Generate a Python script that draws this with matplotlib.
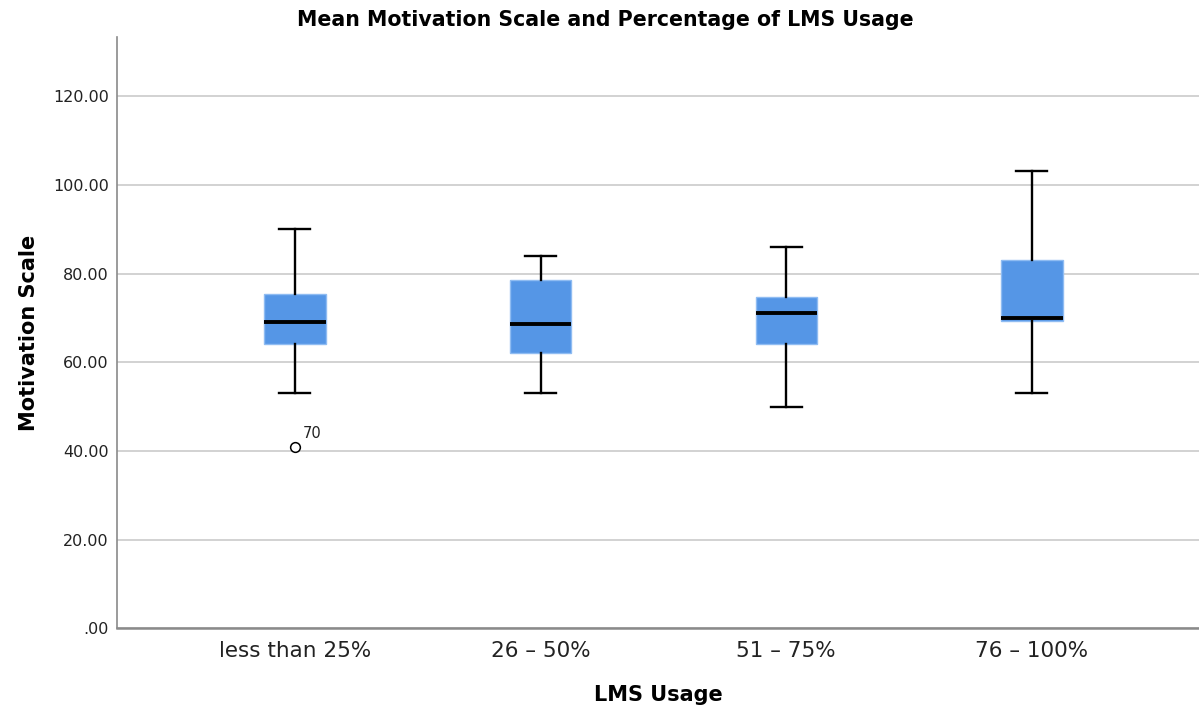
import numpy as np
import matplotlib.pyplot as plt

# Datos
groups = ['less than 25%', '26 \u2013 50%', '51 \u2013 75%', '76 \u2013 100%']
wlo = [53.0, 53.0, 50.0, 53.0]
q1 = [64.1, 62.2, 64.1, 69.3]
med = [69.0, 68.6, 71.1, 70.0]
q3 = [75.4, 78.5, 74.8, 83.0]
whi = [90.0, 84.0, 86.0, 103.0]
fliers = [[41.0], [], [], []]
flier_ids = [['70'], [], [], []]

yticks = [0, 20, 40, 60, 80, 100, 120]
ytick_labels = ['.00', '20.00', '40.00', '60.00', '80.00', '100.00', '120.00']

box_color = '#5596e6'

stats = []
for i in range(len(groups)):
    stats.append(dict(whislo=wlo[i], q1=q1[i], med=med[i], q3=q3[i],
                      whishi=whi[i], fliers=fliers[i], label=groups[i]))

fig = plt.figure(figsize=(11.99, 7.08), dpi=100)
ax = fig.add_axes([0.0976, 0.1123, 0.9024, 0.8354])

pos = np.arange(len(groups))
ax.bxp(stats, positions=pos, widths=0.25, patch_artist=True,
       boxprops=dict(facecolor=box_color, edgecolor='#8fbcf2', linewidth=1),
       medianprops=dict(color='black', linewidth=2.8, solid_capstyle='butt'),
       whiskerprops=dict(color='black', linewidth=1.7),
       capprops=dict(color='black', linewidth=1.7),
       capwidths=0.126,
       flierprops=dict(marker='o', markerfacecolor='white', markeredgecolor='black',
                       markersize=7, markeredgewidth=1.1),
       zorder=3)

# etiquetas de casos atipicos
for i in range(len(groups)):
    for v, lab in zip(fliers[i], flier_ids[i]):
        ax.annotate(lab, (pos[i], v), xytext=(6, 6), textcoords='offset points',
                    fontsize=10.5, color='#222222')

ax.set_xlim(-0.724, 3.68)
ax.set_ylim(0, 133.3)
ax.set_yticks(yticks)
ax.set_yticklabels(ytick_labels, fontsize=11.5, color='#222222')
ax.set_xticks(pos)
ax.set_xticklabels(groups, fontsize=15.5, color='#222222')
ax.yaxis.grid(True, color='#cfcfcf', linewidth=1.3)
ax.set_axisbelow(True)

for s in ['top', 'right']:
    ax.spines[s].set_visible(False)
ax.spines['left'].set_color('#8a8a8a')
ax.spines['bottom'].set_color('#8a8a8a')
ax.spines['left'].set_linewidth(1.2)
ax.spines['bottom'].set_linewidth(1.8)
ax.tick_params(axis='both', length=0, pad=6)
ax.tick_params(axis='x', pad=9)

fig.suptitle('Mean Motivation Scale and Percentage of LMS Usage',
             x=0.505, y=0.972, va='center', fontsize=14.8, fontweight='bold')
ax.set_xlabel('LMS Usage', fontsize=15, fontweight='bold', labelpad=17)
ax.set_ylabel('Motivation Scale', fontsize=15, fontweight='bold', labelpad=10)

fig.savefig('out.png', dpi=100)
